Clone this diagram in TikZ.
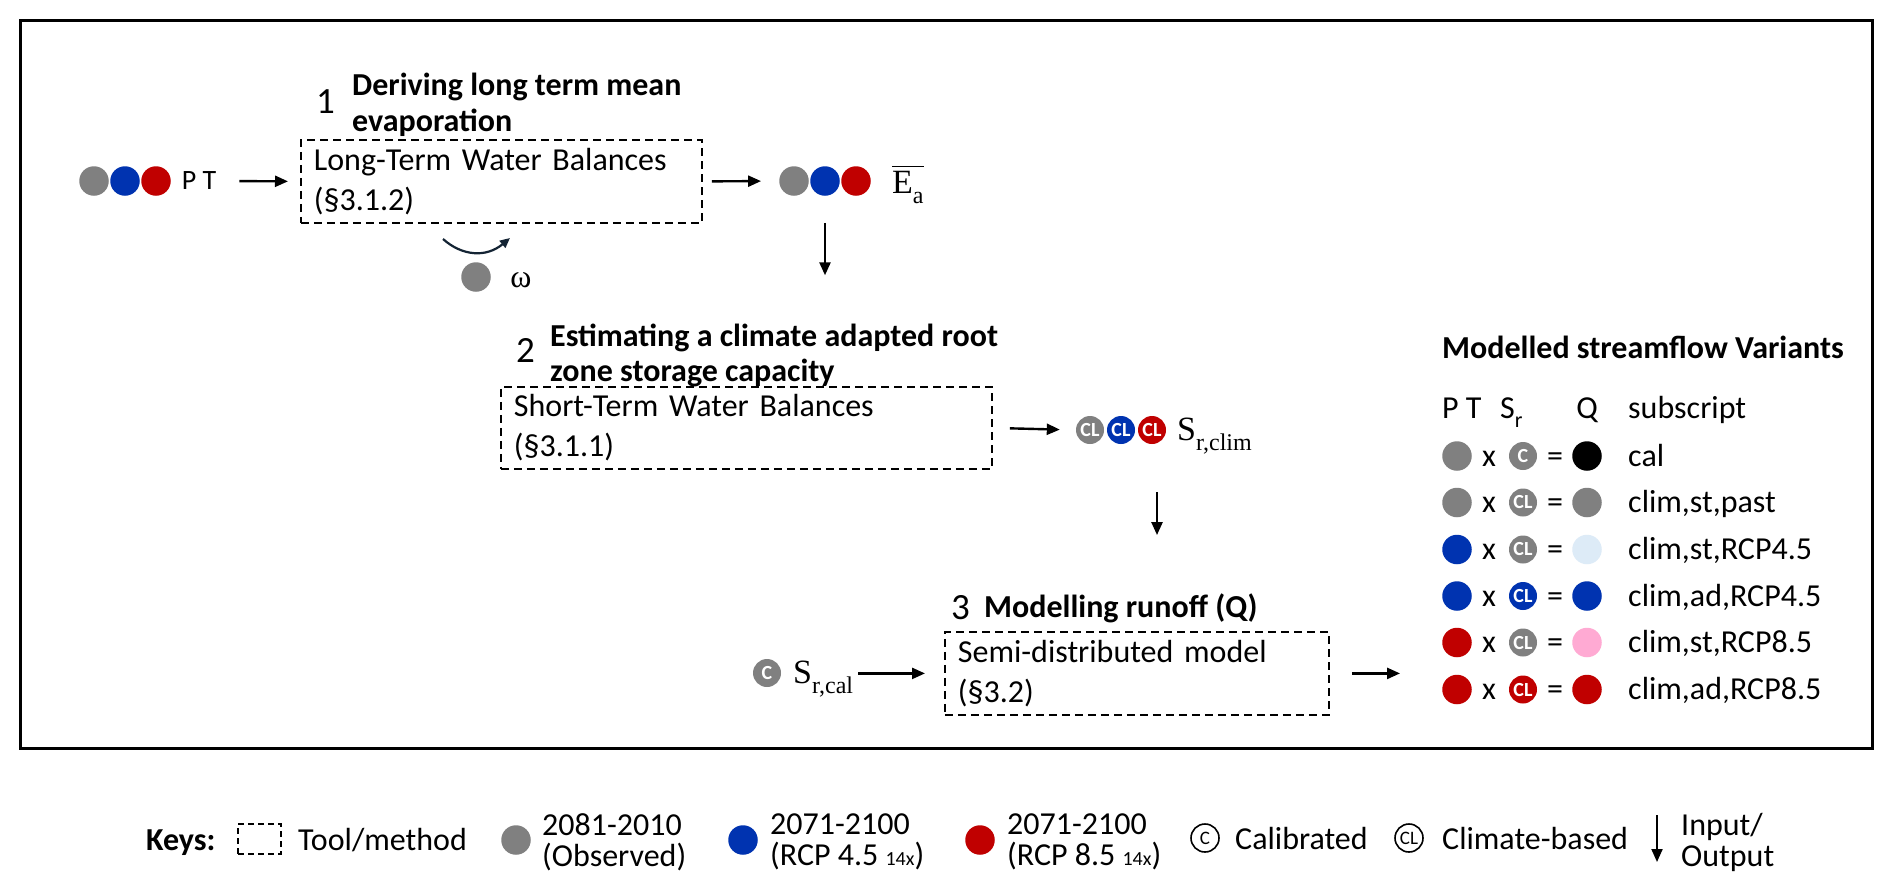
\documentclass[tikz,border=0pt]{standalone}
\usepackage{fontspec}
\setmainfont{Carlito}
\newfontfamily\serif{Liberation Serif}
\usetikzlibrary{arrows.meta}
\definecolor{cgray}{RGB}{128,128,128}
\definecolor{cblue}{RGB}{0,51,176}
\definecolor{cred}{RGB}{192,0,0}
\definecolor{clblue}{RGB}{221,235,247}
\definecolor{cpink}{RGB}{255,170,211}
\definecolor{cnavy}{RGB}{20,36,52}
\newcommand\fsz[2]{\fontsize{#1}{#2}\selectfont}
\newcommand\symsub[2]{{\serif #1\raisebox{-0.32em}{\fsz{24}{24}#2}}}
\tikzset{
  flow/.style={-{Triangle[length=13pt,width=11pt]}, line width=2.4pt},
  methodbox/.style={draw, dash pattern=on 8pt off 5pt, line width=1.8pt, anchor=north west, align=left, inner xsep=13pt, inner ysep=0pt, font=\fsz{32}{40}},
  dotg/.style={circle, fill=#1, minimum size=29.5pt, inner sep=0pt},
  cdot/.style={circle, fill=#1, minimum size=28pt, inner sep=0pt, text=white, font=\fsz{20}{20}\bfseries},
  keycirc/.style={circle, draw, line width=1.6pt, minimum size=28pt, inner sep=0pt, font=\fsz{19}{19}},
  body/.style={inner sep=0pt, font=\fsz{32}{40}},
  bodyb/.style={inner sep=0pt, font=\fsz{32}{40}\bfseries},
  num/.style={inner sep=0pt, font=\fsz{37}{40}},
  keytxt/.style={inner sep=0pt, font=\fsz{32}{31}, align=left, anchor=west},
}
\begin{document}
\begin{tikzpicture}[x=1pt,y=-1pt]
\useasboundingbox (0,0) rectangle (1892,884);
\fill[white] (0,0) rectangle (1892,884);
\draw[line width=3pt] (20,20) rectangle (1872,748);

% ---- step 1
\node[dotg=cgray] (pt1) at (94,181) {};
\node[dotg=cblue] (pt2) at (125,181) {};
\node[dotg=cred]  (pt3) at (156,181) {};
\node[inner sep=0pt, font=\fsz{28}{30}] (ptl) at (199,181) {P T};
\node[methodbox, text width=375pt, minimum height=83pt] (b1) at (300,139) {Long-Term Water Balances\\(§3.1.2)};
\node[num, anchor=base west] (n1) at (316,113) {1};
\node[bodyb, anchor=base west] (t1a) at (352,95) {Deriving long term mean};
\node[bodyb, anchor=base west] (t1b) at (352,131) {evaporation};
\node[dotg=cgray] (ea1) at (794,181) {};
\node[dotg=cblue] (ea2) at (825,181) {};
\node[dotg=cred]  (ea3) at (856,181) {};
\node[inner sep=0pt, anchor=base west, font=\fsz{34}{34}] (eal) at (892,193) {\symsub{E}{a}};
\draw[line width=1.6pt] ([yshift=4pt]eal.north west) -- ([yshift=4pt]eal.north east);

% ---- step 2
\node[num, anchor=base west] (n2) at (516,362) {2};
\node[bodyb, anchor=base west] (t2a) at (550,346) {Estimating a climate adapted root};
\node[bodyb, anchor=base west] (t2b) at (550,381) {zone storage capacity};
\node[methodbox, text width=465pt, minimum height=82pt] (b2) at (500,386) {Short-Term Water Balances\\(§3.1.1)};
\node[cdot=cgray] (cl1) at (1090,430) {CL};
\node[cdot=cblue] (cl2) at (1121,430) {CL};
\node[cdot=cred]  (cl3) at (1152,430) {CL};
\node[inner sep=0pt, anchor=base west, font=\fsz{34}{34}] (scl) at (1177,440) {\symsub{S}{r,clim}};

% ---- step 3
\node[num, anchor=base west] (n3) at (951,619) {3};
\node[bodyb, anchor=base west] (t3) at (984,617) {Modelling runoff (Q)};
\node[methodbox, text width=358pt, minimum height=83pt] (b3) at (944,631) {Semi-distributed model\\(§3.2)};
\node[cdot=cgray] (cc) at (767,673) {C};
\node[inner sep=0pt, anchor=base west, font=\fsz{34}{34}] (scal) at (793,683) {\symsub{S}{r,cal}};

% ---- variants
\node[bodyb, anchor=base west] (vt) at (1442,358) {Modelled streamflow Variants};
\node[body, anchor=base west] (hpt) at (1442,418) {P T};
\node[body, anchor=base west] (hsr) at (1500,418) {S\raisebox{-0.3em}{\fsz{22}{22}r}};
\node[body, anchor=base] (hq) at (1587,418) {Q};
\node[body, anchor=base west] (hsub) at (1628,418) {subscript};
\foreach \i/\y/\ca/\cs/\lab/\cq/\lbl in {
  1/456/cgray/cgray/C/black/cal,
  2/502.5/cgray/cgray/CL/cgray/{clim,st,past},
  3/549.5/cblue/cgray/CL/clblue/{clim,st,RCP4.5},
  4/596/cblue/cblue/CL/cblue/{clim,ad,RCP4.5},
  5/642.5/cred/cgray/CL/cpink/{clim,st,RCP8.5},
  6/689.5/cred/cred/CL/cred/{clim,ad,RCP8.5}} {
  \node[dotg=\ca] (v\i a) at (1457,\y) {};
  \node[body, anchor=base] (v\i x) at (1489,\y+10) {x};
  \node[cdot=\cs] (v\i s) at (1523,\y) {\lab};
  \node[body, anchor=base] (v\i e) at (1555,\y+10) {=};
  \node[dotg=\cq] (v\i q) at (1587,\y) {};
  \node[body, anchor=base west] (v\i l) at (1628,\y+10) {\lbl};
}

% ---- connectors
\draw[flow, shorten <=23pt, shorten >=12pt] (ptl.east) -- (b1.west);
\draw[flow, shorten <=9pt, shorten >=18pt] (b1.east) -- (ea1.west);
\draw[flow, shorten <=27pt, shorten >=48pt] (ea2.south) -- (ea2.south |- t2a.north);
\coordinate (om1) at (443,239);
\coordinate (om2) at (510,238);
\draw[cnavy, line width=2.2pt, -{Triangle[length=10pt,width=9pt]}] (om1) .. controls (462,256) and (486,258) .. (om2);
\node[dotg=cgray] (wdot) at (476,277) {};
\node[inner sep=0pt, font=\fsz{32}{32}\serif] (wl) at (521,280) {ω};
\draw[flow, shorten <=17pt, shorten >=16pt] (b2.east) -- (cl1.west);
\draw[flow, shorten <=48pt, shorten >=58pt] ([xshift=5pt]cl3.south) -- ([xshift=5pt]cl3.south |- t3.north);
\draw[flow, shorten <=5pt, shorten >=19pt] (scal.east |- b3.west) -- (b3.west);
\draw[flow, shorten <=22pt, shorten >=42pt] (b3.east) -- (b3.east -| v6a.west);

% ---- keys
\node[bodyb, anchor=base west] (kk) at (146,850) {Keys:};
\node[draw, dash pattern=on 6pt off 4pt, line width=1.4pt, minimum width=43pt, minimum height=30pt, inner sep=0pt] (kbox) at (259.5,839) {};
\node[body, anchor=base west] (ktool) at (298,850) {Tool/method};
\node[dotg=cgray] (kd1) at (516,840) {};
\node[keytxt] (kt1) at (542,842) {2081-2010\\(Observed)};
\node[dotg=cblue] (kd2) at (743,840) {};
\node[keytxt] (kt2) at (770,842) {2071-2100\\(RCP 4.5 {\fsz{20}{20}14x})};
\node[dotg=cred] (kd3) at (980,840) {};
\node[keytxt] (kt3) at (1007,842) {2071-2100\\(RCP 8.5 {\fsz{20}{20}14x})};
\node[keycirc] (kc) at (1205,838) {C};
\node[body, anchor=base west] (kct) at (1235,849) {Calibrated};
\node[keycirc] (kcl) at (1409,838) {CL};
\node[body, anchor=base west] (kclt) at (1442,849) {Climate-based};
\coordinate (ka1) at (1657,815);
\coordinate (ka2) at (1657,862);
\draw[flow, line width=2pt] (ka1) -- (ka2);
\node[keytxt] (kio) at (1681,842) {Input/\\Output};
\end{tikzpicture}
\end{document}
